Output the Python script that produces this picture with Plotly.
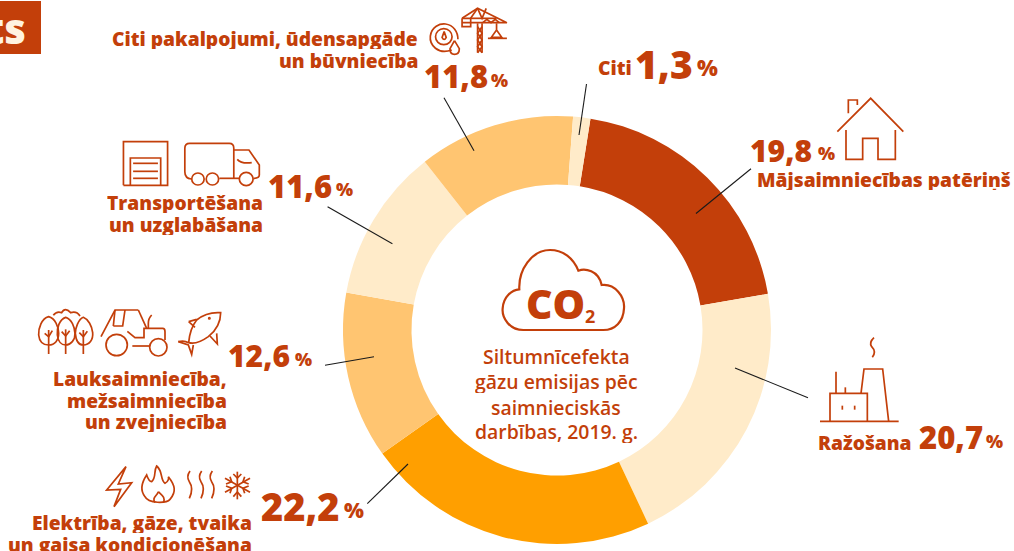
import re
import plotly.graph_objects as go

W, H = 1014, 551
categories = ["Mājsaimniecības patēriņš", "Ražošana", "Elektrība, gāze, tvaika un gaisa kondicionēšana",
              "Lauksaimniecība, mežsaimniecība un zvejniecība", "Transportēšana un uzglabāšana",
              "Citi pakalpojumi, ūdensapgāde un būvniecība", "Citi"]
values = [19.8, 20.7, 22.2, 12.6, 11.6, 11.8, 1.3]
colors = ["#C33F0A", "#FFEBC9", "#FF9F00", "#FFC571", "#FFEBC9", "#FFC571", "#FFEBC9"]
DARK = "#C33F0A"
FONT = "Open Sans"

fig = go.Figure(go.Pie(labels=categories, values=values, sort=False, direction="clockwise", rotation=9.0,
                       hole=0.68, textinfo="none", showlegend=False,
                       marker=dict(colors=colors, line=dict(width=0)),
                       domain=dict(x=[343/W, 771/W], y=[1-544/H, 1-116/H])))
shapes, ann = [], []

def px(x): return x/W
def py(y): return 1-y/H

def path(d, ox=0, oy=0, sx=1/3, sy=1/3, width=1.7, color=DARK):
    toks = re.findall(r"[MLCQZ]|-?[\d.]+", d)
    out, nums = [], []
    for t in toks:
        if t in "MLCQZ":
            out.append(t)
        else:
            nums.append(float(t))
            if len(nums) == 2:
                out.append(f"{px(ox+nums[0]*sx):.5f},{py(oy+nums[1]*sy):.5f}")
                nums = []
    shapes.append(dict(type="path", xref="paper", yref="paper", path=" ".join(out),
                       line=dict(color=color, width=width), fillcolor="rgba(0,0,0,0)"))

def circ(cx, cy, r, ox=0, oy=0, sx=1/3, sy=1/3, width=1.7):
    shapes.append(dict(type="circle", xref="paper", yref="paper",
                       x0=px(ox+(cx-r)*sx), x1=px(ox+(cx+r)*sx), y0=py(oy+(cy+r)*sy), y1=py(oy+(cy-r)*sy),
                       line=dict(color=DARK, width=width), fillcolor="rgba(0,0,0,0)"))

def text(t, x, y, size, anchor="left", weight=700, color=DARK, height=None):
    dx = {"left": -2, "right": 2, "center": 0}[anchor]
    a = dict(text=t, x=px(x+dx), y=py(y), xref="paper", yref="paper", xanchor=anchor, yanchor="middle",
             showarrow=False, align=anchor, font=dict(family=FONT, size=size, color=color, weight=weight))
    if height:
        a["height"] = height
    ann.append(a)

def num(v):
    return f"{v:.1f}".replace(".", ",")

# corner tab
shapes.append(dict(type="rect", xref="paper", yref="paper", x0=0, x1=px(41), y0=py(54), y1=py(1),
                   fillcolor=DARK, line=dict(width=0)))
text("ts", 26, 27, 42, "right", 800, "#FFF3E0")

# leader lines
for a, b, c, d in [(444, 97.7, 474, 150.7), (327.6, 206.7, 392.4, 243.7), (586.5, 84, 579, 135),
                   (751, 168.7, 696, 213.5), (808, 397.7, 735, 368), (325, 365.3, 374, 356.7),
                   (367.3, 503.7, 408, 464)]:
    path(f"M{a},{b} L{c},{d}", sx=1, sy=1, width=1.1, color="#1A1A1A")

# percentage labels: number right edge, percent left edge, y centres, sizes
pct_layout = [(812, 150, 818, 153, 30, 18), (983, 437, 986, 441, 31, 18), (340, 506, 344, 510, 38, 21),
              (290, 355, 295, 359, 30, 18), (332, 186, 336, 189, 31, 18), (488, 76, 491, 80, 31, 18),
              (693, 63, 697, 67, 39, 22)]
for v, (xr, yn, xp, yp, sz, sp) in zip(values, pct_layout):
    text(num(v), xr, yn, sz, "right", 800)
    text("%", xp, yp, sp, "left", 800)

# category labels
for t, x, y in [("Citi pakalpojumi, ūdensapgāde", 418, 38), ("un būvniecība", 418, 60), ("Citi", 632, 68),
                ("Mājsaimniecības patēriņš", 1011, 180), ("Ražošana", 912, 442),
                ("Transportēšana", 263, 202), ("un uzglabāšana", 263, 224),
                ("Lauksaimniecība,", 227, 378), ("mežsaimniecība", 227, 400), ("un zvejniecība", 227, 421),
                ("Elektrība, gāze, tvaika", 252, 522), ("un gaisa kondicionēšana", 252, 544)]:
    text(t, x, y, 19.2, "right", 800, height=21)

# centre text
for t, y in [("Siltumnīcefekta", 356), ("gāzu emisijas pēc", 381), ("saimnieciskās", 407), ("darbības, 2019. g.", 431)]:
    text(t, 556, y, 19.4, "center", 600, height=24)
text("CO", 555, 303, 41, "center", 800)
text("2", 590, 316, 18, "center", 700)

# cloud
path("M190,270 L430,270 C465,270 490,245 492,205 C495,170 465,130 425,135 C415,90 375,85 355,92 "
     "C340,55 310,30 270,30 C215,30 175,90 178,148 C155,150 130,170 128,205 C125,235 150,270 190,270 Z",
     460, 240, width=2.2)

# house
for d in ["M412,185 L512,85 L610,185", "M445,130 L445,90 L472,90 L472,105",
          "M438,180 L438,268 L488,268 L488,205 L534,205 L534,268 L586,268 L586,180"]:
    path(d, 700, 70)

# factory
for d in ["M120,274 L356,274", "M150,274 L150,190 L262,190 L262,274", "M168,190 L168,125", "M196,190 L196,172",
          "M243,190 L252,117 L308,117 L326,274", "M187,227 L187,239", "M224,227 L224,239",
          "M282,23 Q266,38 275,50 Q290,65 277,82"]:
    path(d, 780, 330)

SX = 1/2.9
for d in ["M358,556 L358,425 L486,425 L486,556 L358,556", "M378,556 L378,474 L466,474 L466,556",
          "M386,490 L458,490", "M386,514 L458,514", "M386,535 L458,535",
          "M555,537 Q536,535 536,515 L536,445 Q536,430 550,430 L665,430 Q678,430 678,445 L678,535",
          "M678,450 L722,450 L752,495 L752,525 Q752,535 735,535", "M695,535 L636,535",
          "M688,478 Q700,492 730,488",
          "M1310,150 C1270,165 1245,135 1248,108 C1252,80 1275,70 1292,72 C1315,75 1328,95 1328,118",
          "M1288,95 L1282,112 Q1288,125 1294,112 L1288,95",
          "M1318,122 L1305,146 Q1305,163 1318,163 Q1332,163 1332,146 L1318,122",
          "M1385,70 L1385,158", "M1398,70 L1398,158", "M1385,80 L1398,100 L1385,120 L1398,140 L1385,158",
          "M1398,80 L1385,100 L1398,120 L1385,140 L1398,158",
          "M1340,55 L1385,25 L1470,68 L1340,68", "M1340,55 L1340,80 L1365,80 L1365,55 L1340,55",
          "M1385,25 L1365,55", "M1385,25 L1398,55 L1410,25", "M1365,55 L1440,55",
          "M1400,68 L1412,58 L1424,68 L1436,58 L1448,68",
          "M1440,70 L1440,90 L1425,112 L1455,112 L1440,90", "M1415,115 L1470,115"]:
    path(d, sx=SX)
for c in [(574, 537, 18), (616, 537, 18), (714, 537, 20)]:
    circ(*c, sx=SX)
circ(1287, 110, 24, sx=SX)

# trees, tractor, fish, lightning, flame, waves, snowflake
Z = (0, 290)
for d in ["M146,80 C125,85 115,115 116,135 C118,155 130,165 146,165 C165,165 176,150 176,130 C176,110 165,85 146,80 Z",
          "M197,82 C178,88 170,115 172,135 C174,155 185,165 197,165 C212,165 226,150 225,130 C224,110 215,88 197,82 Z",
          "M250,82 C235,88 226,115 226,130 C228,155 238,165 250,165 C268,165 280,150 278,128 C276,108 265,88 250,82 Z",
          "M146,120 L146,192", "M134,130 L146,140 L157,122",
          "M197,118 L197,192", "M185,125 L197,138 L209,122",
          "M250,120 L250,192", "M238,128 L250,140 L262,124",
          "M160,76 Q170,62 185,68 Q195,50 212,68 Q230,62 240,78",
          "M303,140 L345,60 L415,60", "M345,60 L340,108", "M375,60 L368,108 L340,108", "M415,60 L440,115",
          "M382,124 L405,143 L432,143 L432,115 L488,115 Q495,115 495,125 L495,150",
          "M445,115 L445,100 Q445,85 455,75", "M397,168 L447,168",
          "M535,155 Q552,150 566,158 Q590,165 625,140 Q662,110 662,68 Q620,65 590,90 Q570,115 566,158",
          "M566,95 L590,88 M566,95 L585,112",
          "M535,155 L565,165 L575,193 L580,165", "M630,138 L652,162 L650,130",
          "M378,530 L320,600 L362,598 L342,650 L395,578 L355,582 L378,530 Z",
          "M470,528 C490,545 480,570 495,580 C505,575 507,565 505,560 C525,585 530,605 510,628 "
          "C500,640 445,642 435,620 C415,595 430,570 440,555 C445,570 450,575 455,575 C470,560 460,545 470,528 Z",
          "M475,605 C485,615 498,622 490,638 M475,605 C470,620 455,622 465,638",
          "M570,543 Q558,560 568,575 Q582,595 568,625", "M605,543 Q593,560 603,575 Q617,595 603,625",
          "M637,543 Q625,560 635,575 Q649,595 635,625",
          "M712,545 L712,628", "M675,565 L750,607", "M750,565 L675,607",
          "M700,552 L712,564 L724,552", "M700,620 L712,606 L724,620",
          "M678,582 L695,575 L690,560", "M746,588 L729,595 L734,610",
          "M746,582 L729,575 L734,560", "M678,588 L695,595 L690,610"]:
    path(d, *Z)
circ(350, 165, 32, *Z)
circ(475, 172, 26, *Z)
circ(628, 85, 2, *Z)

fig.update_layout(width=W, height=H, margin=dict(l=0, r=0, t=0, b=0), paper_bgcolor="white",
                  plot_bgcolor="white", shapes=shapes, annotations=ann, autosize=False)
fig.write_html("out.html", config=dict(displayModeBar=False),
               post_script="document.body.style.margin='0';document.documentElement.style.overflow='hidden';")
